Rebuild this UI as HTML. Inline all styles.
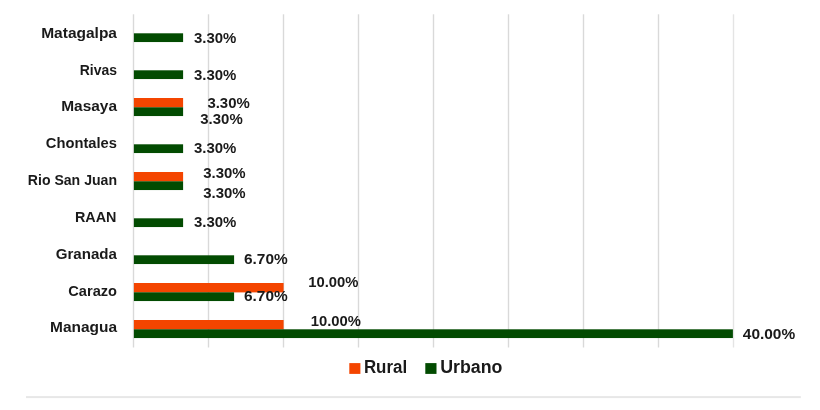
<!DOCTYPE html>
<html><head><meta charset="utf-8"><title>Chart</title>
<style>
html,body{margin:0;padding:0;background:#fff;}
body{width:820px;height:410px;overflow:hidden;}
svg{display:block;filter:blur(0.4px);font-family:"Liberation Sans",sans-serif;font-weight:bold;}
.cat{font-size:14.2px;fill:#1a1a1a;text-anchor:end;}
.dl{font-size:14px;fill:#1a1a1a;}
.lg{font-size:18px;fill:#1a1a1a;}
</style></head><body>
<svg width="820" height="410" viewBox="0 0 820 410">
<rect width="820" height="410" fill="#fff"/>
<rect x="132.8" y="14.3" width="1.4" height="333.2" fill="#d9d9d9"/>
<rect x="207.8" y="14.3" width="1.4" height="333.2" fill="#d9d9d9"/>
<rect x="282.8" y="14.3" width="1.4" height="333.2" fill="#d9d9d9"/>
<rect x="357.8" y="14.3" width="1.4" height="333.2" fill="#d9d9d9"/>
<rect x="432.8" y="14.3" width="1.4" height="333.2" fill="#d9d9d9"/>
<rect x="507.8" y="14.3" width="1.4" height="333.2" fill="#d9d9d9"/>
<rect x="582.8" y="14.3" width="1.4" height="333.2" fill="#d9d9d9"/>
<rect x="657.8" y="14.3" width="1.4" height="333.2" fill="#d9d9d9"/>
<rect x="732.8" y="14.3" width="1.4" height="333.2" fill="#e4e4e4"/>
<rect x="26" y="396.1" width="774.8" height="2" fill="#e7e7e7"/>
<rect x="133.9" y="33.30" width="49.20" height="8.75" fill="#024B01"/>
<rect x="133.9" y="70.30" width="49.20" height="8.75" fill="#024B01"/>
<rect x="133.9" y="98.00" width="49.20" height="9.4" fill="#F44500"/>
<rect x="133.9" y="107.30" width="49.20" height="8.75" fill="#024B01"/>
<rect x="133.9" y="144.30" width="49.20" height="8.75" fill="#024B01"/>
<rect x="133.9" y="172.00" width="49.20" height="9.4" fill="#F44500"/>
<rect x="133.9" y="181.30" width="49.20" height="8.75" fill="#024B01"/>
<rect x="133.9" y="218.30" width="49.20" height="8.75" fill="#024B01"/>
<rect x="133.9" y="255.30" width="100.20" height="8.75" fill="#024B01"/>
<rect x="133.9" y="283.00" width="149.70" height="9.4" fill="#F44500"/>
<rect x="133.9" y="292.30" width="100.20" height="8.75" fill="#024B01"/>
<rect x="133.9" y="320.00" width="149.70" height="9.4" fill="#F44500"/>
<rect x="133.9" y="329.30" width="599.00" height="8.75" fill="#024B01"/>
<text class="cat" x="117.0" y="37.9" textLength="75.8" lengthAdjust="spacingAndGlyphs">Matagalpa</text>
<text class="cat" x="117.0" y="74.7" textLength="37.2" lengthAdjust="spacingAndGlyphs">Rivas</text>
<text class="cat" x="117.0" y="110.9" textLength="55.8" lengthAdjust="spacingAndGlyphs">Masaya</text>
<text class="cat" x="117.0" y="148.1" textLength="71.2" lengthAdjust="spacingAndGlyphs">Chontales</text>
<text class="cat" x="117.0" y="184.5" textLength="89.2" lengthAdjust="spacingAndGlyphs">Rio San Juan</text>
<text class="cat" x="116.4" y="221.9" textLength="41.5" lengthAdjust="spacingAndGlyphs">RAAN</text>
<text class="cat" x="117.0" y="258.5" textLength="61.3" lengthAdjust="spacingAndGlyphs">Granada</text>
<text class="cat" x="117.0" y="295.7" textLength="48.7" lengthAdjust="spacingAndGlyphs">Carazo</text>
<text class="cat" x="117.0" y="331.9" textLength="67.0" lengthAdjust="spacingAndGlyphs">Managua</text>
<text class="dl" x="194.0" y="43.2" textLength="42.4" lengthAdjust="spacingAndGlyphs">3.30%</text>
<text class="dl" x="194.0" y="80.0" textLength="42.4" lengthAdjust="spacingAndGlyphs">3.30%</text>
<text class="dl" x="207.4" y="108" textLength="42.4" lengthAdjust="spacingAndGlyphs">3.30%</text>
<text class="dl" x="200.3" y="124.3" textLength="42.4" lengthAdjust="spacingAndGlyphs">3.30%</text>
<text class="dl" x="194.0" y="153.0" textLength="42.4" lengthAdjust="spacingAndGlyphs">3.30%</text>
<text class="dl" x="203.2" y="178.2" textLength="42.4" lengthAdjust="spacingAndGlyphs">3.30%</text>
<text class="dl" x="203.2" y="198.2" textLength="42.4" lengthAdjust="spacingAndGlyphs">3.30%</text>
<text class="dl" x="194.0" y="226.9" textLength="42.4" lengthAdjust="spacingAndGlyphs">3.30%</text>
<text class="dl" x="244.0" y="264.3" textLength="43.7" lengthAdjust="spacingAndGlyphs">6.70%</text>
<text class="dl" x="308.3" y="286.9" textLength="50.2" lengthAdjust="spacingAndGlyphs">10.00%</text>
<text class="dl" x="244.0" y="301.1" textLength="43.7" lengthAdjust="spacingAndGlyphs">6.70%</text>
<text class="dl" x="310.8" y="326.2" textLength="50.2" lengthAdjust="spacingAndGlyphs">10.00%</text>
<text class="dl" x="742.8" y="338.6" textLength="52.4" lengthAdjust="spacingAndGlyphs">40.00%</text>
<rect x="349.3" y="363.1" width="11.1" height="10.8" fill="#F44500"/>
<text class="lg" x="363.9" y="373.1" textLength="43.2" lengthAdjust="spacingAndGlyphs">Rural</text>
<rect x="425.3" y="363.1" width="11.2" height="10.8" fill="#024B01"/>
<text class="lg" x="440.2" y="373.1" textLength="62.2" lengthAdjust="spacingAndGlyphs">Urbano</text>
</svg></body></html>
